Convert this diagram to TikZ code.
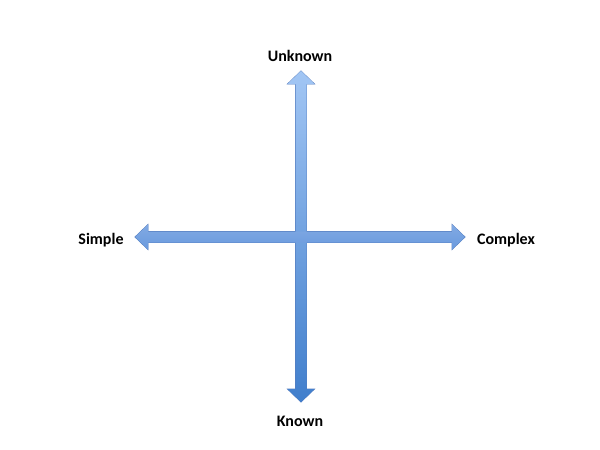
\documentclass[tikz,border=0pt]{standalone}
\usepackage{fontspec}
\newfontfamily\carlito{Carlito}
\usetikzlibrary{calc}

\definecolor{arrowtop}{RGB}{162,198,244}
\definecolor{arrowbottom}{RGB}{64,126,204}
\definecolor{arrowmid}{RGB}{106,154,222}
\definecolor{arrowedge}{RGB}{84,124,190}

\tikzset{
  axisarrow/.style={draw=arrowedge, line width=0.8pt, line join=miter},
  axisfill/.style={draw=none},
  axislabel/.style={font=\carlito\bfseries\fontsize{16}{19}\selectfont, inner sep=0pt}
}

\begin{document}
\begin{tikzpicture}[x=1pt,y=-1pt]
                    \useasboundingbox[fill=white] (0,0) rectangle (600,450);

                    % vertical axis
                    \coordinate (up) at (301,71);
                    \coordinate (down) at (301,402);
                    % horizontal axis
                    \coordinate (left) at (135,237);
                    \coordinate (right) at (465,237);

                    \def\vaxis{(up) -- ++(13.5,13) -- ++(-8,0) |- ($(down)+(5.5,-13)$) -- ++(8,0) -- (down) -- ++(-13.5,-13) -- ++(8,0) |- ($(up)+(-5.5,13)$) -- ++(-8,0) -- cycle}
                    \def\haxis{(left) -- ++(13,-12.5) -- ++(0,7) -| ($(right)+(-13,-5.5)$) -- ++(0,-7) -- (right) -- ++(-13,12.5) -- ++(0,-7) -| ($(left)+(13,5.5)$) -- ++(0,7) -- cycle}

                    \shade[axisarrow, top color=arrowtop, bottom color=arrowbottom] \vaxis;
                    \shade[axisarrow, top color=arrowmid!85!white, bottom color=arrowmid] \haxis;
                    \shade[axisfill, top color=arrowtop, bottom color=arrowbottom] \vaxis;
                    \shade[axisfill, top color=arrowmid!85!white, bottom color=arrowmid] \haxis;

                    \node[axislabel] (unknown) at(300,56) {Unknown};
                    \node[axislabel] (known) at(300,421) {Known};
                    \node[axislabel] (simple) at(101,240) {Simple};
                    \node[axislabel] (complex) at(506,240) {Complex};
                \end{tikzpicture}
\end{document}
